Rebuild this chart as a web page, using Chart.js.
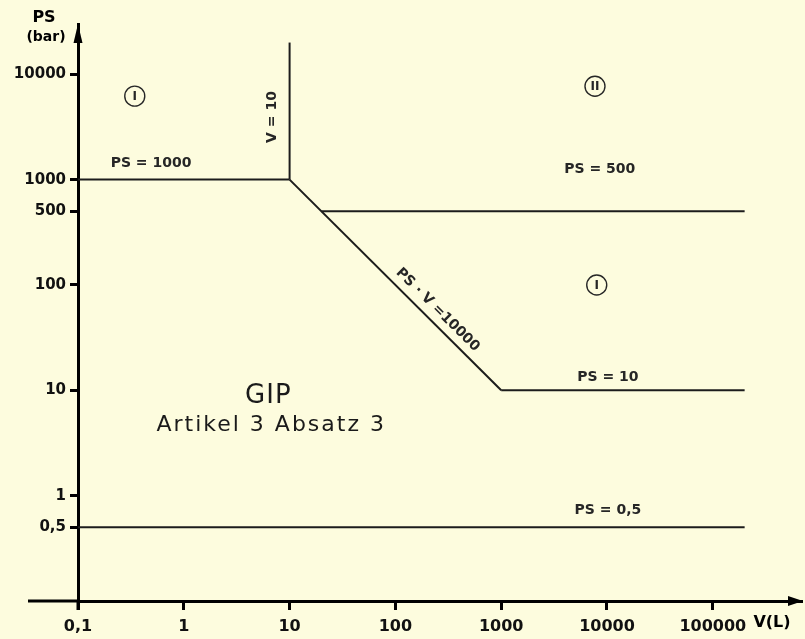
<!DOCTYPE html>
<html>
<head>
<meta charset="utf-8">
<script src="https://cdn.jsdelivr.net/npm/chart.js@4/dist/chart.umd.min.js"></script>
<style>
  html, body { margin: 0; padding: 0; background: #fdfcde; }
  #wrap { width: 805px; height: 639px; }
</style>
</head>
<body>
<div id="wrap"><canvas id="chart" width="805" height="639"></canvas></div>
<script>
// Tick values on both log axes
const volumeTicks = [0.1, 1, 10, 100, 1000, 10000, 100000];
const pressureTicks = [0.5, 1, 10, 100, 500, 1000, 10000];

// Boundary lines as [V (L), PS (bar)] pairs
const ps1000Line = [[0.1, 1000], [10, 1000]];
const v10Line = [[10, 1000], [10, 20000]];
const psTimesVLine = [[10, 1000], [1000, 10]];
const ps500Line = [[20, 500], [200000, 500]];
const ps10Line = [[1000, 10], [200000, 10]];
const ps05Line = [[0.1, 0.5], [200000, 0.5]];

const ink = '#1c1c1c';

function toPoints(pairs) {
    return pairs.map(([v, ps]) => ({ x: v, y: ps }));
}

function lineSet(pairs) {
    return {
        data: toPoints(pairs),
        showLine: true,
        borderColor: ink,
        borderWidth: 2,
        pointRadius: 0,
        fill: false
    };
}

function commaNumber(v) {
    return String(v).replace('.', ',');
}

// Paint the paper colour behind everything
const paper = {
    id: 'paper',
    beforeDraw(chart) {
        const ctx = chart.ctx;
        ctx.save();
        ctx.fillStyle = '#fdfcde';
        ctx.fillRect(0, 0, chart.width, chart.height);
        ctx.restore();
    }
};

// Arrows, axis titles, region marks and line labels
const decorations = {
    id: 'decorations',
    afterDraw(chart) {
        const { ctx, chartArea: a, scales: { x, y } } = chart;
        const px = v => x.getPixelForValue(v);
        const py = ps => y.getPixelForValue(ps);

        ctx.save();
        ctx.strokeStyle = '#000';
        ctx.fillStyle = '#000';
        ctx.lineWidth = 3;

        // axes run a little past the origin
        ctx.beginPath();
        ctx.moveTo(a.left - 50, a.bottom);
        ctx.lineTo(a.left, a.bottom);
        ctx.moveTo(a.left, a.bottom);
        ctx.lineTo(a.left, a.bottom + 9);
        ctx.stroke();

        // arrow heads
        ctx.beginPath();
        ctx.moveTo(a.left, a.top);
        ctx.lineTo(a.left - 4.5, a.top + 19);
        ctx.lineTo(a.left + 4.5, a.top + 19);
        ctx.closePath();
        ctx.fill();
        ctx.beginPath();
        ctx.moveTo(a.right + 1, a.bottom);
        ctx.lineTo(a.right - 14, a.bottom - 5);
        ctx.lineTo(a.right - 14, a.bottom + 5);
        ctx.closePath();
        ctx.fill();

        // axis titles
        ctx.textAlign = 'center';
        ctx.textBaseline = 'middle';
        ctx.font = 'bold 16px "DejaVu Sans"';
        ctx.fillText('PS', a.left - 34, 18);
        ctx.font = 'bold 14px "DejaVu Sans"';
        ctx.fillText('(bar)', a.left - 32, 37);
        ctx.font = 'bold 16px "DejaVu Sans"';
        ctx.fillText('V(L)', 772, a.bottom + 22);

        // line labels
        ctx.fillStyle = '#262626';
        ctx.font = 'bold 14px "DejaVu Sans"';
        ctx.fillText('PS = 1000', px(0.49), py(1440));
        ctx.fillText('PS = 500', px(8550), py(1260));
        ctx.fillText('PS = 10', px(10200), py(13.4));
        ctx.fillText('PS = 0,5', px(10200), py(0.73));

        ctx.save();
        ctx.translate(px(6.8), py(3930));
        ctx.rotate(-Math.PI / 2);
        ctx.fillText('V = 10', 0, 0);
        ctx.restore();

        // label along PS * V = 10000, turned to the line's slope
        const [[v1, p1], [v2, p2]] = psTimesVLine;
        const angle = Math.atan2(py(p2) - py(p1), px(v2) - px(v1));
        ctx.save();
        ctx.translate(px(251), py(58));
        ctx.rotate(angle);
        ctx.fillText('PS \u00b7 V =10000', 0, 0);
        ctx.restore();

        // category marks in circles
        ctx.lineWidth = 1.4;
        ctx.strokeStyle = '#262626';
        ctx.font = 'bold 12px "DejaVu Sans"';
        [['I', 0.344, 6200], ['II', 7700, 7700], ['I', 8000, 100]].forEach(([t, v, ps]) => {
            ctx.beginPath();
            ctx.arc(px(v), py(ps), 10, 0, Math.PI * 2);
            ctx.stroke();
            ctx.fillText(t, px(v), py(ps) + 1);
        });

        // GIP area caption
        ctx.fillStyle = '#1a1a1a';
        ctx.font = '26px "DejaVu Sans"';
        ctx.letterSpacing = '1px';
        ctx.fillText('GIP', px(6.3), py(8.8));
        ctx.font = '22px "DejaVu Sans"';
        ctx.letterSpacing = '2px';
        ctx.fillText('Artikel 3 Absatz 3', px(6.7), py(4.7));
        ctx.restore();
    }
};

const chart = new Chart(document.getElementById('chart'), {
    type: 'scatter',
    data: {
        datasets: [
            lineSet(ps1000Line),
            lineSet(v10Line),
            lineSet(psTimesVLine),
            lineSet(ps500Line),
            lineSet(ps10Line),
            lineSet(ps05Line)
        ]
    },
    options: {
        responsive: false,
        animation: false,
        layout: { padding: { top: 24, right: 3, bottom: 0, left: 0 } },
        plugins: {
            legend: { display: false },
            tooltip: { enabled: false }
        },
        scales: {
            x: {
                type: 'logarithmic',
                position: 'bottom',
                min: 0.1,
                max: 697000,
                afterBuildTicks: scale => { scale.ticks = volumeTicks.map(v => ({ value: v })); },
                afterFit: scale => { scale.height = 38; },
                border: { display: true, width: 3, color: '#000' },
                grid: { drawOnChartArea: false, drawTicks: true, tickLength: 9, tickWidth: 3, color: '#000' },
                ticks: {
                    autoSkip: false,
                    maxRotation: 0,
                    padding: 7,
                    color: '#111',
                    font: { family: 'DejaVu Sans', size: 16, weight: 'bold' },
                    callback: v => commaNumber(v)
                }
            },
            y: {
                type: 'logarithmic',
                position: 'left',
                min: 0.1,
                max: 30000,
                afterBuildTicks: scale => { scale.ticks = pressureTicks.map(v => ({ value: v })); },
                afterFit: scale => { scale.width = 78; },
                border: { display: true, width: 3, color: '#000' },
                grid: { drawOnChartArea: false, drawTicks: true, tickLength: 8, tickWidth: 3, color: '#000' },
                ticks: {
                    autoSkip: false,
                    padding: 4,
                    color: '#111',
                    font: { family: 'DejaVu Sans', size: 15, weight: 'bold' },
                    callback: v => commaNumber(v)
                }
            }
        }
    },
    plugins: [paper, decorations]
});
</script>
</body>
</html>
